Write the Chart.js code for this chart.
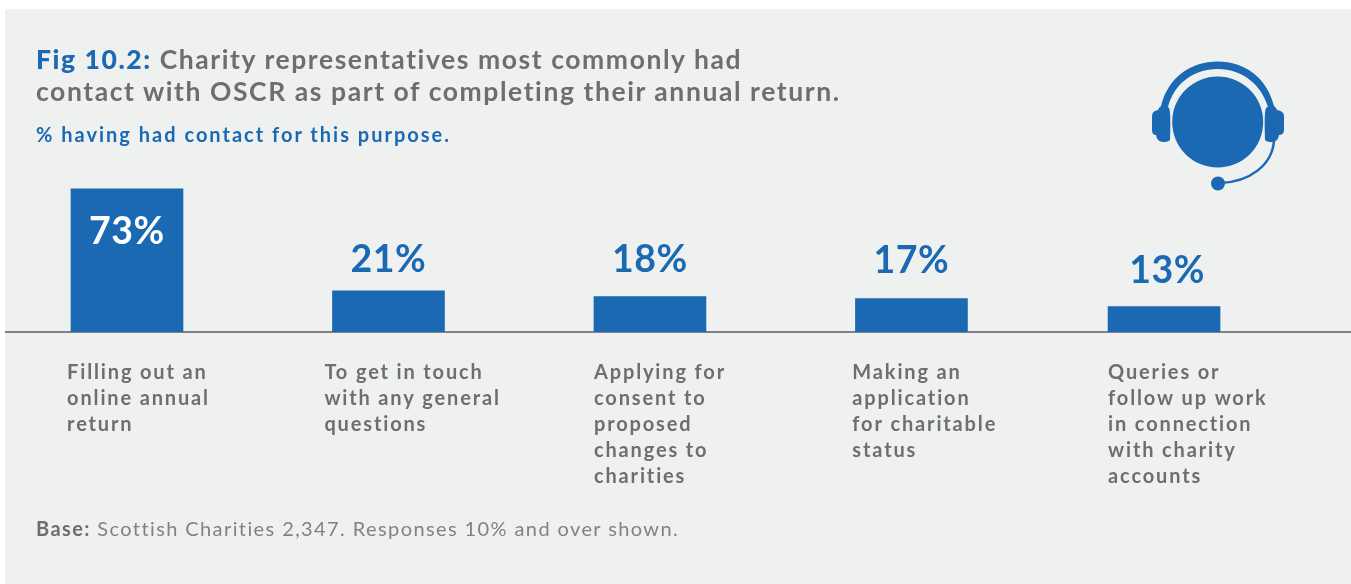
<!DOCTYPE html>
<html><head><meta charset="utf-8">
<script src="https://cdn.jsdelivr.net/npm/chart.js@4"></script>
<style>
html,body{margin:0;padding:0;background:#fff;width:1351px;height:584px;overflow:hidden}
#panel{position:absolute;left:5px;top:9px;width:1346px;height:575px;background:#eff1f1}
#wrap{position:absolute;left:0;top:0;width:1351px;height:584px}
.t{position:absolute;font-family:Lato,sans-serif;white-space:nowrap}
#title{left:36px;top:43px;font-size:26.5px;line-height:32px;font-weight:700;color:#6d6e71;letter-spacing:1.57px}
#title b,#sub{color:#1a69b2}
#sub{left:36px;top:122px;font-size:20px;line-height:24px;font-weight:700;letter-spacing:2px}
#foot{left:36px;top:516px;font-size:20px;line-height:24px;color:#808285;letter-spacing:1.4px}
#foot b{color:#6d6e71}
#icon{position:absolute;left:1140px;top:50px}
</style></head><body>
<div id="panel"></div>
<div id="wrap"><canvas id="c" width="1351" height="584"></canvas></div>
<div class="t" id="title"><b>Fig 10.2:</b> Charity representatives most commonly had<br>contact with OSCR as part of completing their annual return.</div>
<div class="t" id="sub">% having had contact for this purpose.</div>
<div class="t" id="foot"><b>Base:</b> Scottish Charities 2,347. Responses 10% and over shown.</div>
<svg id="icon" width="160" height="150" viewBox="1140 50 160 150" fill="#1a69b2">
<circle cx="1217.7" cy="122" r="45.5"/>
<path d="M1161 106C1168 78 1190 61.5 1217.7 61.5C1245 61.5 1267 78 1274 106L1268 107C1261 84 1242 69 1217.7 69C1193 69 1174 84 1168 107Z"/>
<path d="M1158 110Q1160 105 1165 105L1169 108Q1171 111 1170 140Q1168 142 1163 142Q1157 142 1156 135Q1152 135 1152 130V116Q1152 111 1158 110Z"/>
<path d="M1277 110Q1275 105 1270 105L1266 108Q1264 111 1265 140Q1267 142 1272 142Q1278 142 1279 135Q1284 135 1284 130V116Q1284 111 1277 110Z"/>
<path d="M1274 141C1272 165 1250 182 1220 183" fill="none" stroke="#1a69b2" stroke-width="2.5"/>
<circle cx="1218" cy="183.5" r="7"/>
</svg>
<script>
const categories = [
  ["Filling out an","online annual","return"],
  ["To get in touch","with any general","questions"],
  ["Applying for","consent to","proposed","changes to","charities"],
  ["Making an","application","for charitable","status"],
  ["Queries or","follow up work","in connection","with charity","accounts"]
];
const values = [73, 21, 18, 17, 13];
const slots = [0, 1, 2, 3, 3.966];
const labelNudge = [-0.229, -0.245, -0.214, -0.226, -0.214];
const valueLabelLift = [-55, 19, 25, 26, 23];
const valueLabelShift = [0, 0, 0, 0, 3];

const BLUE = "#1a69b2", GREY = "#6d6e71";
const spacing = {
  id:"spacing",
  beforeLayout(ch){ ch.ctx.letterSpacing = "1.85px"; },
  beforeDraw(ch){ ch.ctx.letterSpacing = "1.85px"; }
};
const valueLabels = {
  id:"valueLabels",
  afterDatasetsDraw(ch){
    const ctx = ch.ctx, meta = ch.getDatasetMeta(0);
    ctx.save();
    ctx.font = "700 37.5px Lato, sans-serif";
    ctx.letterSpacing = "0.5px";
    ctx.textAlign = "center";
    ctx.textBaseline = "alphabetic";
    meta.data.forEach((bar,i)=>{
      ctx.fillStyle = i === 0 ? "#fff" : BLUE;
      ctx.fillText(values[i] + "%", bar.x + valueLabelShift[i], bar.y - valueLabelLift[i]);
    });
    ctx.restore();
  }
};
new Chart(document.getElementById("c"),{
  type:"bar",
  data:{ datasets:[{
    data: values.map((v,i)=>({x:slots[i],y:v})),
    backgroundColor:BLUE, barThickness:112, borderWidth:0
  }]},
  plugins:[spacing,valueLabels],
  options:{
    responsive:false, animation:false, devicePixelRatio:1,
    layout:{padding:{left:6,right:0,top:175,bottom:0}},
    plugins:{legend:{display:false},tooltip:{enabled:false}},
    scales:{
      x:{ type:"linear", min:-0.4627, max:4.681, offset:false,
        grid:{display:false,drawTicks:false},
        border:{display:true,color:"#808285",width:2},
        afterBuildTicks(s){ s.ticks = slots.map((v,i)=>({value:v+labelNudge[i]})); },
        afterFit(s){ s.height = 252; },
        ticks:{ autoSkip:false, maxRotation:0, minRotation:0, align:"start", padding:28,
          color:GREY, font:{family:"Lato, sans-serif",size:20,weight:"700",lineHeight:1.3},
          callback:(v,i)=>categories[i] }
      },
      y:{ display:false, min:0, max:80, grid:{display:false} }
    }
  }
});
</script>
</body></html>
